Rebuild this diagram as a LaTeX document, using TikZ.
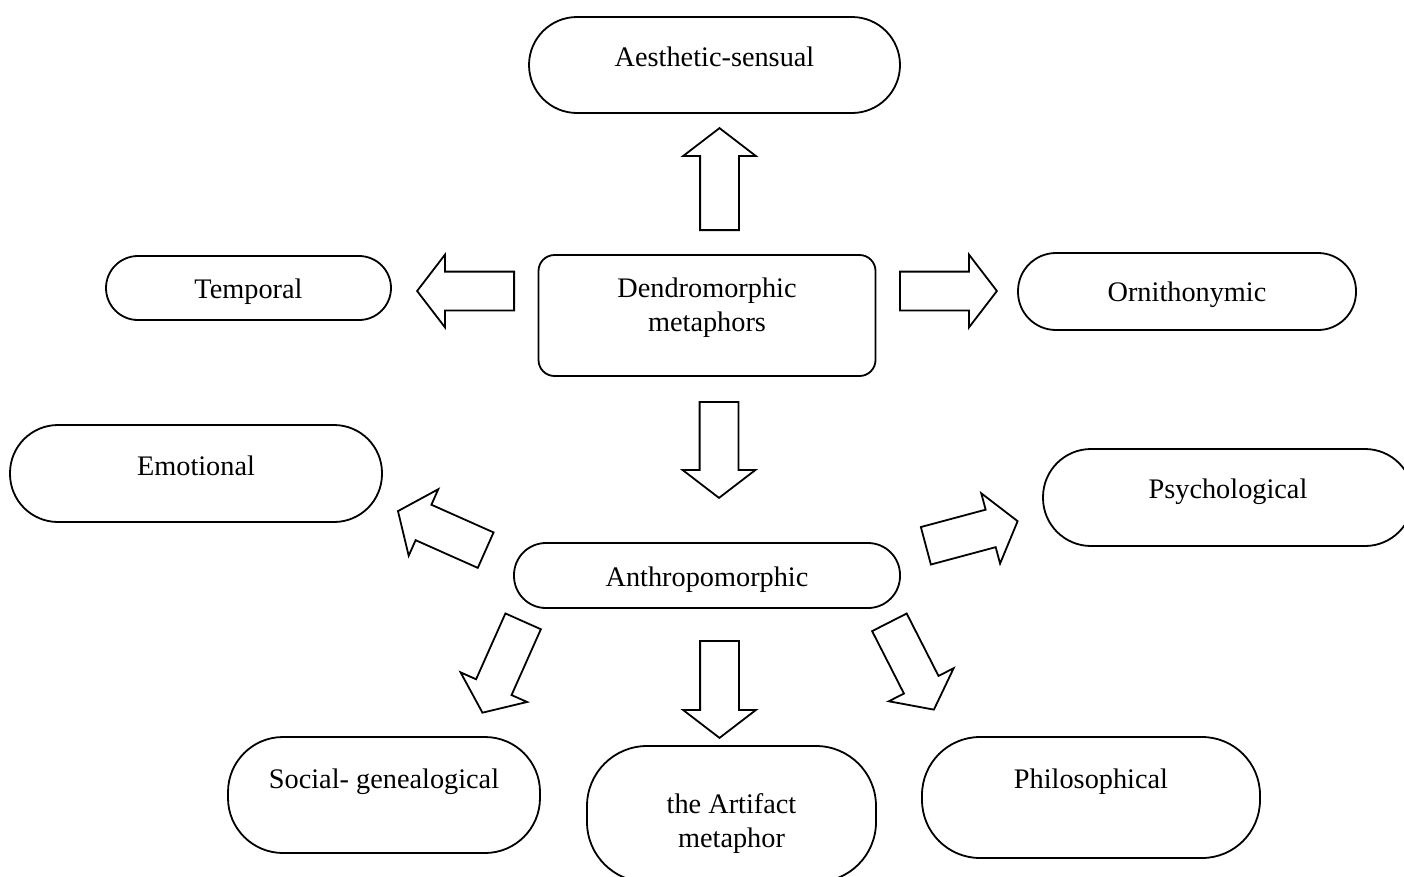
\documentclass[tikz,border=0pt]{standalone}
\usepackage{fontspec}
\setmainfont{Liberation Serif}
\usetikzlibrary{shapes.arrows}
\tikzset{
box/.style={draw, line width=1.8pt, inner sep=0pt, rounded corners=#1}, % outline of a class
words/.style={align=center, yshift=#1}, % text in a box, raised a little
fat/.style={single arrow, draw, line width=1.8pt, inner xsep=0pt, inner ysep=18.5pt, text height=0pt, text depth=0pt, anchor=tail, single arrow head extend=17pt, single arrow tip angle=105}, % hollow block arrow
}

\begin{document}
\begin{tikzpicture}[x=1pt, y=-1pt, font=\fontsize{28.3}{34}\selectfont]
            \useasboundingbox (0,0) rectangle (1404,876);
            % the classes
            \node[box=16pt, minimum width=337pt, minimum height=121pt, label={[words=8pt]center:Dendromorphic\\metaphors}] (dend) at (707,315.5) {};
            \node[box=48pt, minimum width=371pt, minimum height=96pt, label={[words=8pt]center:Aesthetic-sensual}] (aes) at (714.5,65) {};
            \node[box=32pt, minimum width=285pt, minimum height=64pt, label={[words=-4pt]center:Temporal}] (temp) at (248.5,288) {};
            \node[box=38pt, minimum width=338pt, minimum height=77pt, label={[words=-3pt]center:Ornithonymic}] (orn) at (1187,291.5) {};
            \node[box=32pt, minimum width=386pt, minimum height=65pt, label={[words=-4pt]center:Anthropomorphic}] (anth) at (707,575.5) {};
            \node[box=48pt, minimum width=372pt, minimum height=97pt, label={[words=8pt]center:Emotional}] (emo) at (196,473.5) {};
            \node[box=48pt, minimum width=370pt, minimum height=97pt, label={[words=6pt]center:Psychological}] (psy) at (1228,497.5) {};
            \node[box=55pt, minimum width=312pt, minimum height=116pt, label={[words=13pt]center:Social- genealogical}] (soc) at (384,795) {};
            \node[box=60pt, minimum width=289pt, minimum height=136pt, label={[words=-10pt]center:the Artifact\\metaphor}] (art) at (731.5,814) {};
            \node[box=58pt, minimum width=338pt, minimum height=121pt, label={[words=16pt]center:Philosophical}] (phil) at (1091,797.5) {};
            % the arrows, placed by their tails
            \node[fat, rotate=90, minimum height=102pt] (a1) at (719.5,231) {};
            \node[fat, rotate=180, minimum height=97pt] (a2) at (515,291) {};
            \node[fat, rotate=0, minimum height=97pt] (a3) at (899,291) {};
            \node[fat, rotate=-90, minimum height=96pt] (a4) at (719,401) {};
            \node[fat, rotate=156, minimum height=96pt] (a5) at (486.5,550.5) {};
            \node[fat, rotate=15, minimum height=95pt] (a6) at (925,546) {};
            \node[fat, rotate=-114, minimum height=100pt] (a7) at (523.5,620.5) {};
            \node[fat, rotate=-90, minimum height=97pt] (a8) at (719.5,640) {};
            \node[fat, rotate=-63, minimum height=98pt] (a9) at (889,621.5) {};
        \end{tikzpicture}
\end{document}
